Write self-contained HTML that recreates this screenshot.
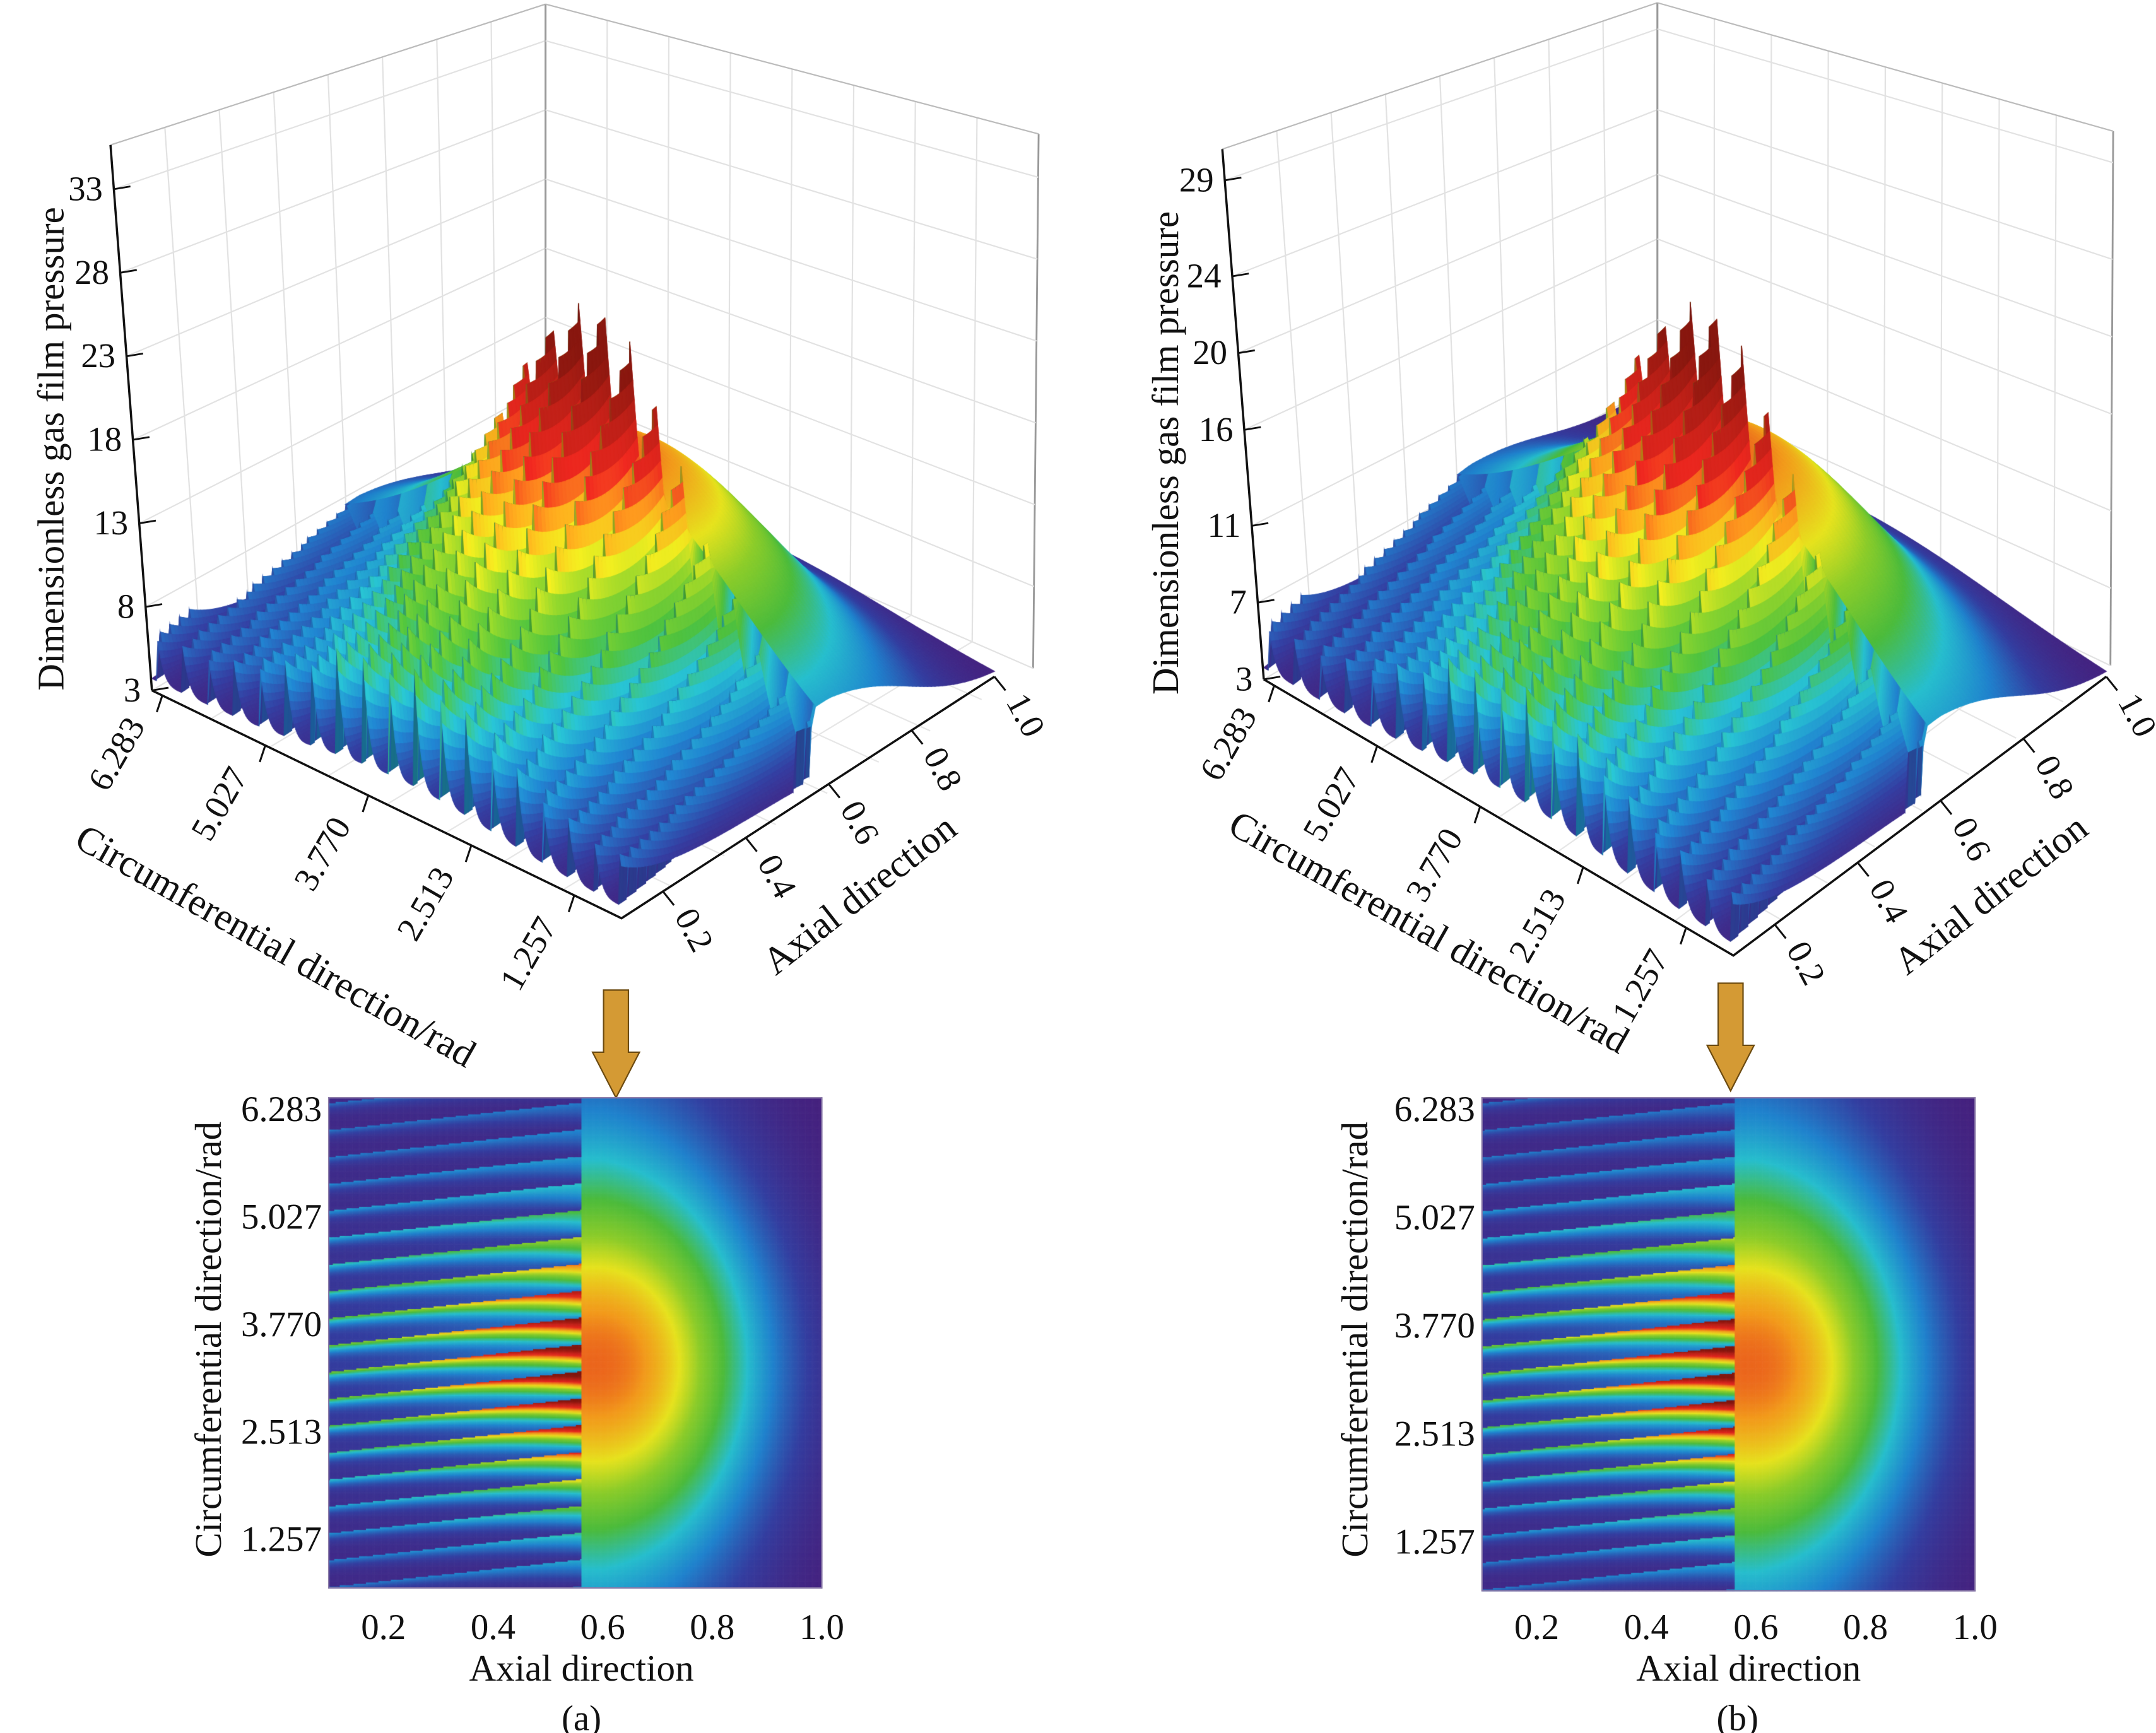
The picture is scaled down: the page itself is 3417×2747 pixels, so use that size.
<!DOCTYPE html>
<html><head><meta charset="utf-8">
<style>
html,body{margin:0;padding:0;background:#fff;}
#wrap{position:relative;width:3417px;height:2747px;overflow:hidden;}
#wrap svg,#wrap canvas{position:absolute;left:0;top:0;}
text{font-family:"Liberation Serif",serif;fill:#111;}
</style></head><body>
<div id="wrap">
<svg id="back" width="3417" height="2747" viewBox="0 0 1561 1255" preserveAspectRatio="none"></svg>
<canvas id="cv" width="3417" height="2747"></canvas>
<svg id="front" width="3417" height="2747" viewBox="0 0 1561 1255" preserveAspectRatio="none" font-family="Liberation Serif, serif">
  <text x="46" y="325" font-size="27" text-anchor="middle" transform="rotate(-90 46 325)">Dimensionless gas film pressure</text>
  <text x="853" y="328" font-size="27" text-anchor="middle" transform="rotate(-90 853 328)">Dimensionless gas film pressure</text>
  <text x="195" y="693" font-size="28" text-anchor="middle" transform="rotate(29.5 195 693)">Circumferential direction/rad</text>
  <text x="1030" y="683" font-size="28" text-anchor="middle" transform="rotate(29.5 1030 683)">Circumferential direction/rad</text>
  <text x="628" y="655" font-size="28" text-anchor="middle" transform="rotate(-38 628 655)">Axial direction</text>
  <text x="1447" y="655" font-size="28" text-anchor="middle" transform="rotate(-38 1447 655)">Axial direction</text>
  <text x="160" y="970" font-size="27" text-anchor="middle" transform="rotate(-90 160 970)">Circumferential direction/rad</text>
  <text x="990" y="970" font-size="27" text-anchor="middle" transform="rotate(-90 990 970)">Circumferential direction/rad</text>
  <text x="421" y="1217" font-size="27" text-anchor="middle">Axial direction</text>
  <text x="1266" y="1217" font-size="27" text-anchor="middle">Axial direction</text>
  <text x="421" y="1253" font-size="26" text-anchor="middle">(a)</text>
  <text x="1258" y="1253" font-size="26" text-anchor="middle">(b)</text>
  <polygon points="437,717 455,717 455,762 463,762 446,795 429,762 437,762" fill="#d49a34" stroke="#6b4a10" stroke-width="1"/>
  <polygon points="1244,712 1262,712 1262,757 1270,757 1253,790 1236,757 1244,757" fill="#d49a34" stroke="#6b4a10" stroke-width="1"/>
</svg>
</div>
<script>
// ---- data ----
const zTicksA = [3, 8, 13, 18, 23, 28, 33];
const zTicksB = [3, 7, 11, 16, 20, 24, 29];
const circTicks = [6.283, 5.027, 3.770, 2.513, 1.257];
const circLabels = ["6.283", "5.027", "3.770", "2.513", "1.257"];
const axialTicks = [0.2, 0.4, 0.6, 0.8, 1.0];
const axialLabels = ["0.2", "0.4", "0.6", "0.8", "1.0"];
const ampByPanel = [1.0, 0.86];
const peakTheta = [3.3, 3.3];
const grooveCount = [20, 20];
const xDomain = [0.1, 1.0];
const thDomain = [0.68, 6.41];

const NS = "http://www.w3.org/2000/svg";
const FONT = '"Liberation Serif", serif';
const back = document.getElementById('back');
const front = document.getElementById('front');
function mk(parent, tag, attrs) {
  const e = document.createElementNS(NS, tag);
  for (const k in attrs) e.setAttribute(k, attrs[k]);
  parent.appendChild(e); return e;
}

const panels = [
  {front:[450,665], left:[110,500], right:[720,490], zs:12.1,
   LV:[[80,105],[110,500]], BV:[[395,3],[395,330]], RV:[[752,97],[748,484]],
   zTicks:zTicksA, map:{x0:238,x1:595,y0:795,y1:1150}},
  {front:[1255,692], left:[915,492], right:[1525,490], zs:13.9,
   LV:[[885,108],[915,492]], BV:[[1200,2],[1200,325]], RV:[[1530,95],[1528,482]],
   zTicks:zTicksB, map:{x0:1073,x1:1430,y0:795,y1:1152}}
];

function pres(pi, x, th) {
  const amp = ampByPanel[pi], c = peakTheta[pi];
  const g = s => Math.exp(-Math.pow((th - c) / s, 2));
  let v;
  if (x < 0.56) {
    const cyc = (th - 0.7 * x) * grooveCount[pi] / (2 * Math.PI);
    const s = cyc - Math.floor(cyc);
    const k = 1 + 3 * (0.56 - x) / 0.46;
    const ridge = Math.pow(s, k);
    const A = 6 + 14 * Math.pow(Math.max(0, (x - 0.1) / 0.46), 1.6);
    v = (0.2 + 0.8 * ridge) * (3.5 + A * g(1.5));
  } else {
    const sig = 2.4 * (1 - 0.5 * Math.max(0, x - 0.6));
    const e = Math.exp(-Math.pow(Math.abs(x - 0.58) / 0.3, 2.5));
    v = 13 * e * g(sig) + 1.2 * e;
  }
  return 3 + amp * v;
}

const stops = [[0,[72,30,122]],[0.1,[52,62,160]],[0.2,[32,130,205]],[0.3,[39,190,205]],
 [0.4,[76,187,60]],[0.5,[140,204,42]],[0.58,[230,226,30]],[0.67,[242,154,28]],
 [0.76,[227,38,30]],[1.0,[130,22,14]]];
function cmap(t, shade) {
  t = Math.max(0, Math.min(1, t));
  let i = 0; while (i < stops.length - 2 && t > stops[i+1][0]) i++;
  const a = stops[i], b = stops[i+1], f = (t - a[0]) / (b[0] - a[0]);
  const c = a[1].map((v, k) => Math.round(Math.max(0, Math.min(255, (v + (b[1][k] - v) * f) * shade))));
  return 'rgb(' + c.join(',') + ')';
}
const lerp = (p, q, f) => [p[0] + (q[0] - p[0]) * f, p[1] + (q[1] - p[1]) * f];

// ---- walls (back svg) ----
panels.forEach((P, pi) => {
  const walls = [[P.LV[0], P.BV[0], P.BV[1], P.LV[1]], [P.BV[0], P.RV[0], P.RV[1], P.BV[1]]];
  const zTop = (P.LV[1][1] - P.LV[0][1]) / P.zs + 3;
  walls.forEach((w, wi) => {
    for (let i = 0; i <= 8; i++) {
      const a = lerp(w[0], w[1], i / 8), b = lerp(w[3], w[2], i / 8);
      const l = mk(back, 'line', {x1:a[0], y1:a[1], x2:b[0], y2:b[1], stroke: (i===0||i===8)?'#999':'#e2e2e2', 'stroke-width': (i===0||i===8)?1.3:1});
      
      
    }
    P.zTicks.forEach(z => {
      const f = 1 - (z - 3) / (zTop - 3);
      const a = lerp(w[0], w[3], f), b = lerp(w[1], w[2], f);
      const l = mk(back, 'line', {x1:a[0], y1:a[1], x2:b[0], y2:b[1], stroke:'#e2e2e2', 'stroke-width':1});
      
      
    });
    const t = mk(back, 'line', {x1:w[0][0], y1:w[0][1], x2:w[1][0], y2:w[1][1], stroke:'#bbb', 'stroke-width':1});
    
    
  });
  const FB = P.BV[1], FL = P.LV[1], FR = P.RV[1], FF = P.front;
  for (let i = 1; i < 8; i++) {
    const a = lerp(FL, FB, i / 8), b = lerp(FF, FR, i / 8);
    const l = mk(back, 'line', {x1:a[0], y1:a[1], x2:b[0], y2:b[1], stroke:'#e6e6e6', 'stroke-width':1});
    
    
    const c = lerp(FR, FB, i / 8), d = lerp(FF, FL, i / 8);
    const m = mk(back, 'line', {x1:c[0], y1:c[1], x2:d[0], y2:d[1], stroke:'#e6e6e6', 'stroke-width':1});
    
    
  }
});

// ---- canvas surfaces and maps ----
const cv = document.getElementById('cv');
const ctx = cv.getContext('2d');
ctx.setTransform(3417 / 1561, 0, 0, 2747 / 1255, 0, 0);
const xn = x => (x - xDomain[0]) / (xDomain[1] - xDomain[0]);
const tn = th => (th - thDomain[0]) / (thDomain[1] - thDomain[0]);

panels.forEach((P, pi) => {
  const proj = (x, th, p) => {
    const a = xn(x), b = tn(th);
    return [P.front[0] + b * (P.left[0] - P.front[0]) + a * (P.right[0] - P.front[0]),
            P.front[1] + b * (P.left[1] - P.front[1]) + a * (P.right[1] - P.front[1]) - (p - 3) * P.zs];
  };
  const NX = 100, NT = 320;
  const X = i => xDomain[0] + (xDomain[1] - xDomain[0]) * i / NX;
  const T = j => thDomain[0] + (thDomain[1] - thDomain[0]) * j / NT;
  const grid = [];
  for (let i = 0; i <= NX; i++) { grid.push([]); for (let j = 0; j <= NT; j++) grid[i].push(pres(pi, X(i), T(j))); }
  const scale = 20 * ampByPanel[pi];
  const quads = [];
  for (let i = 0; i < NX; i++) for (let j = 0; j < NT; j++) quads.push([i, j, i / NX + j / NT]);
  quads.sort((a, b) => b[2] - a[2]);
  quads.forEach(([i, j]) => {
    const p00 = grid[i][j], p10 = grid[i+1][j], p01 = grid[i][j+1], p11 = grid[i+1][j+1];
    const pm = (p00 + p10 + p01 + p11) / 4;
    const slope = (p01 + p11 - p00 - p10) / 2;
    const shade = Math.max(0.65, Math.min(1.12, 1 + 0.05 * slope));
    const col = cmap((pm - 3) / scale, shade);
    const a = proj(X(i), T(j), p00), b = proj(X(i+1), T(j), p10), c = proj(X(i+1), T(j+1), p11), d = proj(X(i), T(j+1), p01);
    ctx.beginPath(); ctx.moveTo(a[0], a[1]); ctx.lineTo(b[0], b[1]); ctx.lineTo(c[0], c[1]); ctx.lineTo(d[0], d[1]); ctx.closePath();
    ctx.fillStyle = col; ctx.strokeStyle = col; ctx.lineWidth = 0.6; ctx.fill(); ctx.stroke();
  });
  const M = P.map, step = 1;
  for (let px = M.x0; px < M.x1; px += step) {
    const x = xDomain[0] + (px - M.x0) / (M.x1 - M.x0) * (xDomain[1] - xDomain[0]);
    for (let py = M.y0; py < M.y1; py += step) {
      const th = thDomain[1] - (py - M.y0) / (M.y1 - M.y0) * (thDomain[1] - thDomain[0]);
      ctx.fillStyle = cmap((pres(pi, x, th) - 3) / scale, 1);
      ctx.fillRect(px, py, step + 0.3, step + 0.3);
    }
  }
});

// ---- front axes ----
panels.forEach((P, pi) => {
  const tag = pi ? 'b' : 'a';
  const ax = mk(front, 'polyline', {points: P.left.join(',') + ' ' + P.front.join(',') + ' ' + P.right.join(','), fill:'none', stroke:'#111', 'stroke-width':1.6});
  
  
  const zl = mk(front, 'line', {x1:P.LV[0][0], y1:P.LV[0][1], x2:P.LV[1][0], y2:P.LV[1][1], stroke:'#111', 'stroke-width':1.6});
  
  
  const zTop = (P.LV[1][1] - P.LV[0][1]) / P.zs + 3;
  P.zTicks.forEach(z => {
    const f = 1 - (z - 3) / (zTop - 3);
    const p = lerp(P.LV[0], P.LV[1], f);
    const tk = mk(front, 'line', {x1:p[0], y1:p[1], x2:p[0] + 12, y2:p[1] - 2, stroke:'#111', 'stroke-width':1.3});
    
    
    const t = mk(front, 'text', {x:p[0] - 8, y:p[1] + 8, 'font-size':25, 'text-anchor':'end', 'font-family':FONT});
    t.textContent = z;
    
    
  });
  circTicks.forEach((th, k) => {
    const b = tn(th);
    const p = [P.front[0] + b * (P.left[0] - P.front[0]), P.front[1] + b * (P.left[1] - P.front[1])];
    const tk = mk(front, 'line', {x1:p[0], y1:p[1], x2:p[0] - 4, y2:p[1] + 12, stroke:'#111', 'stroke-width':1.4});
    
    
    const tx = p[0] - 12, ty = p[1] + 22;
    const t = mk(front, 'text', {x:tx, y:ty, 'font-size':25, 'text-anchor':'end', 'font-family':FONT, transform:'rotate(-60 ' + tx + ' ' + ty + ')'});
    t.textContent = circLabels[k];
    
    
  });
  axialTicks.forEach((x, k) => {
    const a = xn(x);
    const p = [P.front[0] + a * (P.right[0] - P.front[0]), P.front[1] + a * (P.right[1] - P.front[1])];
    const tk = mk(front, 'line', {x1:p[0], y1:p[1], x2:p[0] + 8, y2:p[1] + 10, stroke:'#111', 'stroke-width':1.4});
    
    
    const tx = p[0] + 8, ty = p[1] + 18;
    const t = mk(front, 'text', {x:tx, y:ty, 'font-size':25, 'text-anchor':'start', 'font-family':FONT, transform:'rotate(62 ' + tx + ' ' + ty + ')'});
    t.textContent = axialLabels[k];
    
    
  });
  const M = P.map;
  const r = mk(front, 'rect', {x:M.x0, y:M.y0, width:M.x1 - M.x0, height:M.y1 - M.y0, fill:'none', stroke:'#8a7aa8', 'stroke-width':1});
  
  
  circTicks.forEach((th, k) => {
    const y = M.y0 + (thDomain[1] - th) / (thDomain[1] - thDomain[0]) * (M.y1 - M.y0);
    const t = mk(front, 'text', {x:M.x0 - 5, y:y + 9, 'font-size':26, 'text-anchor':'end', 'font-family':FONT});
    t.textContent = circLabels[k];
    
    
  });
  axialTicks.forEach((x, k) => {
    const px = M.x0 + (x - xDomain[0]) / (xDomain[1] - xDomain[0]) * (M.x1 - M.x0);
    const t = mk(front, 'text', {x:px, y:1187, 'font-size':26, 'text-anchor':'middle', 'font-family':FONT});
    t.textContent = axialLabels[k];
    
    
  });
});
</script>
</body></html>
